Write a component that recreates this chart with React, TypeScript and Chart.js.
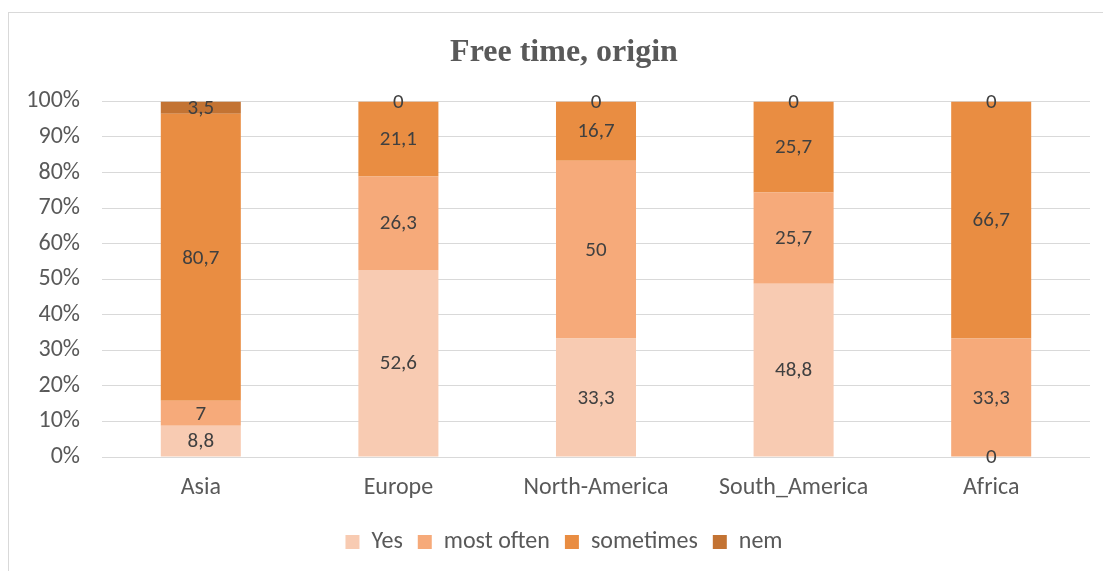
import React, { useEffect, useRef } from "react";
import { Chart, registerables } from "chart.js";

Chart.register(...registerables);

const categories = ["Asia", "Europe", "North-America", "South_America", "Africa"];
const seriesNames = ["Yes", "most often", "sometimes", "nem"];
const yesValues = [8.8, 52.6, 33.3, 48.8, 0];
const mostOftenValues = [7, 26.3, 50, 25.7, 33.3];
const sometimesValues = [80.7, 21.1, 16.7, 25.7, 66.7];
const nemValues = [3.5, 0, 0, 0, 0];
const seriesColors = ["#F8CBB2", "#F6AA7A", "#E98D42", "#C37333"];
const yTickValues = [0, 10, 20, 30, 40, 50, 60, 70, 80, 90, 100];

const FONT = "Carlito, Lato, 'Open Sans', sans-serif";
const FS = 24;
const LABEL_FS = 21;

export default function App() {
  const ref = useRef<HTMLCanvasElement | null>(null);

  useEffect(() => {
    if (!ref.current) return;
    const raw = [yesValues, mostOftenValues, sometimesValues, nemValues];
    const totals = categories.map((_, i) => raw.reduce((s, arr) => s + arr[i], 0));
    const datasets = raw.map((arr, k) => ({
      label: seriesNames[k],
      data: arr.map((v, i) => (totals[i] ? (v / totals[i]) * 100 : 0)),
      rawValues: arr,
      backgroundColor: seriesColors[k],
      borderWidth: 0,
      categoryPercentage: 1,
      barPercentage: 0.405,
      yAxisID: "y",
    }));

    const labelPlugin = {
      id: "valueLabels",
      afterDatasetsDraw(chart: any) {
        const ctx = chart.ctx;
        ctx.save();
        ctx.font = `${LABEL_FS}px ${FONT}`;
        ctx.fillStyle = "#404040";
        ctx.textAlign = "center";
        ctx.textBaseline = "middle";
        chart.data.datasets.forEach((ds: any, di: number) => {
          const meta = chart.getDatasetMeta(di);
          meta.data.forEach((el: any, i: number) => {
            const v = ds.rawValues[i];
            const y = (el.y + el.base) / 2;
            ctx.fillText(String(v).replace(".", ","), el.x, y + 1);
          });
        });
        ctx.restore();
      },
    };

    const chart = new Chart(ref.current, {
      type: "bar",
      data: { labels: categories, datasets: datasets as any },
      options: {
        animation: false,
        responsive: false,
        maintainAspectRatio: false,
        layout: { padding: { left: 0, right: 0, top: 0, bottom: 7 } },
        plugins: {
          title: {
            display: true,
            text: "Free time, origin",
            color: "#595959",
            font: { family: "'Liberation Serif', 'Times New Roman', serif", size: 32, weight: "bold" },
            padding: { top: 21, bottom: 29 },
          },
          legend: {
            position: "bottom",
            labels: {
              color: "#595959",
              font: { family: FONT, size: FS },
              boxWidth: 14,
              boxHeight: 14,
              padding: 15,
            },
          },
          tooltip: { enabled: false },
        },
        scales: {
          x: {
            stacked: true,
            grid: { display: false },
            border: { display: false },
            afterFit(scale: any) {
              scale.height = 58;
            },
            ticks: { color: "#595959", font: { family: FONT, size: FS }, padding: 9 },
          },
          y: {
            stacked: true,
            min: 0,
            max: 100,
            afterFit(scale: any) {
              scale.width = 93;
            },
            afterBuildTicks(scale: any) {
              scale.ticks = yTickValues.map((v) => ({ value: v }));
            },
            grid: { color: "#D9D9D9", lineWidth: 1, drawTicks: false },
            border: { display: false },
            ticks: {
              color: "#595959",
              font: { family: FONT, size: FS },
              padding: 22,
              callback: (v: any) => `${v}%`,
            },
          },
          yRight: {
            type: "linear",
            position: "right",
            min: 0,
            max: 100,
            grid: { display: false, drawTicks: false },
            border: { display: false },
            ticks: { display: false },
            afterFit(scale: any) {
              scale.width = 29;
            },
          },
        },
      },
      plugins: [labelPlugin],
    });
    return () => chart.destroy();
  }, []);

  return (
    <div
      style={{
        marginTop: 4,
        width: 1103,
        height: 559,
        overflow: "hidden",
        borderLeft: "1px solid #D9D9D9",
        borderTop: "1px solid #D9D9D9",
        boxSizing: "border-box",
        background: "#fff",
      }}
    >
      <canvas ref={ref} width={1110} height={558} style={{ display: "block" }} />
    </div>
  );
}
